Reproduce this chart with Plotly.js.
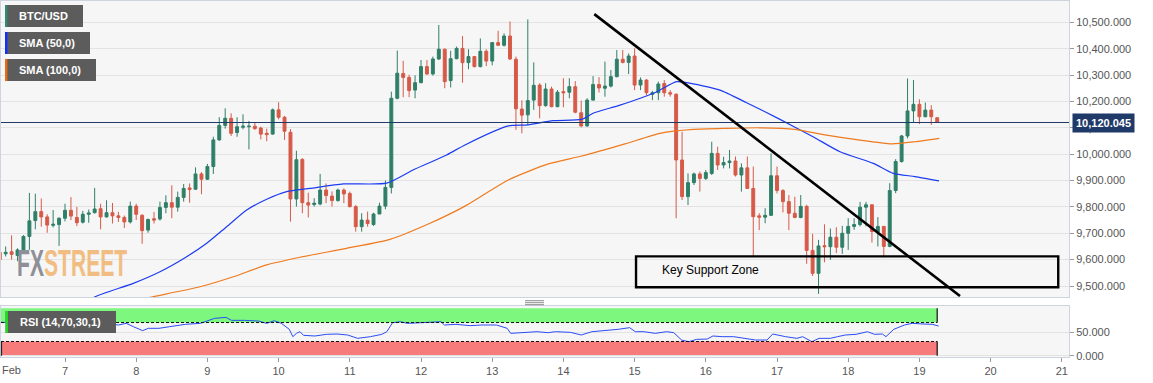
<!DOCTYPE html>
<html>
<head>
<meta charset="utf-8">
<script src="https://cdn.plot.ly/plotly-3.0.1.min.js"></script>
<style>
  html, body { margin: 0; padding: 0; background: #ffffff; }
  #chart { width: 1153px; height: 383px; }
</style>
</head>
<body>
<div id="chart"></div>
<script>
// ---------------- DATA ----------------
// BTC/USD 2-hour candles, first candle Feb 6 2020 02:00
const candleStartDay = 6 + 2 / 24;   // day-of-February (decimal)
const candleStepHours = 2;

const OPEN = [9628,9622,9630,9616,9637,9688,9748,9782,9762,9730,9733,9757,9787,9760,9742,9772,9778,9793,9762,9778,
  9766,9760,9743,9803,9768,9712,9755,9754,9798,9816,9799,9836,9872,9867,9925,9905,9953,10054,10109,10136,
  10082,10102,10104,10106,10099,10079,10076,10168,10140,10083,9830,9980,9816,9809,9811,9864,9841,9824,9864,9851,
  9801,9725,9750,9733,9773,9803,9874,10212,10306,10291,10243,10271,10332,10304,10361,10398,10279,10362,10401,10347,
  10370,10332,10390,10353,10423,10413,10448,10360,10171,10149,10205,10262,10184,10247,10180,10237,10235,10256,10157,10107,
  10205,10264,10250,10258,10294,10360,10348,10372,10262,10281,10227,10233,10268,10233,10227,9978,9839,9892,9925,9908,
  9927,10003,9959,9968,9974,9921,9948,9870,9766,9761,9768,9918,9862,9820,9776,9760,9802,9635,9548,9653,
  9649,9685,9647,9700,9726,9733,9799,9808,9705,9726,9650,9862,9972,10069,10164,10189,10142,10167,10138];
const HIGH = [9635,9650,9692,9643,9693,9853,9850,9832,9772,9788,9760,9812,9837,9800,9785,9790,9872,9812,9825,9815,
  9781,9767,9820,9812,9772,9756,9781,9820,9844,9882,9858,9887,9889,9950,9932,9963,10066,10140,10174,10155,
  10140,10151,10126,10121,10104,10097,10173,10197,10145,10095,10013,9985,9854,9833,9925,9889,9859,9869,9870,9858,
  9807,9776,9782,9778,9816,9900,10237,10393,10354,10301,10299,10357,10357,10370,10490,10400,10392,10408,10448,10398,
  10372,10439,10398,10425,10468,10458,10503,10370,10204,10511,10348,10269,10269,10256,10243,10288,10288,10277,10203,10212,
  10296,10292,10351,10319,10395,10395,10382,10401,10291,10284,10240,10275,10281,10243,10231,10085,9927,9930,9934,9940,
  10047,10028,9990,10016,9991,9965,9991,9953,9776,9795,10003,9953,9867,9845,9839,9845,9808,9698,9675,9734,
  9718,9723,9728,9757,9757,9819,9819,9808,9761,9728,9890,9981,10073,10287,10281,10208,10196,10186,10140];
const LOW = [9585,9612,9600,9594,9635,9637,9715,9725,9702,9722,9652,9745,9750,9727,9737,9740,9775,9715,9760,9737,
  9743,9720,9737,9750,9660,9702,9737,9748,9776,9757,9782,9820,9816,9864,9848,9902,9925,10051,10097,10069,
  10066,10094,10018,10092,10056,10049,10074,10132,10054,9744,9801,9776,9760,9801,9806,9814,9801,9820,9814,9798,
  9706,9706,9725,9728,9773,9791,9851,10208,10216,10216,10212,10269,10300,10298,10357,10250,10253,10360,10271,10322,
  10329,10329,10334,10337,10410,10408,10357,10092,10079,10110,10168,10136,10180,10178,10178,10178,10212,10155,10102,10104,
  10203,10234,10218,10253,10291,10344,10304,10243,10243,10224,10205,10205,10218,10218,9757,9826,9807,9883,9858,9902,
  9921,9940,9946,9946,9915,9858,9870,9611,9712,9738,9766,9851,9779,9712,9757,9757,9584,9538,9470,9590,
  9599,9625,9622,9637,9713,9726,9726,9665,9650,9609,9647,9852,9968,10060,10119,10114,10140,10111,10118];
const CLOSE = [9600,9628,9620,9637,9688,9747,9782,9762,9731,9734,9757,9787,9765,9740,9772,9777,9792,9762,9778,9766,
  9760,9743,9803,9772,9710,9752,9750,9798,9816,9799,9836,9870,9866,9925,9905,9953,10054,10109,10136,10079,
  10104,10106,10106,10097,10076,10074,10168,10140,10087,9830,9979,9816,9807,9814,9864,9843,9824,9864,9849,9801,
  9725,9750,9737,9773,9803,9874,10212,10307,10291,10241,10271,10332,10304,10361,10398,10275,10362,10401,10347,10370,
  10332,10390,10353,10423,10413,10448,10361,10172,10148,10203,10261,10184,10247,10180,10235,10233,10256,10159,10107,10205,
  10264,10251,10258,10294,10360,10348,10372,10262,10281,10233,10233,10266,10233,10228,9978,9839,9892,9925,9908,9930,
  10003,9959,9968,9974,9921,9948,9870,9763,9761,9768,9918,9862,9820,9776,9760,9802,9635,9548,9652,9649,
  9685,9647,9700,9726,9733,9799,9808,9707,9726,9650,9862,9972,10069,10164,10189,10142,10167,10142,10120.045];

// SMA(50) and SMA(100) (time = day of Feb 2020)
const sma50Time = [7.351,7.421,7.959,8.334,8.709,8.990,9.271,9.552,9.833,10.114,10.441,10.909,11.518,11.888,12.361,12.618,
  13.226,13.503,13.854,14.257,14.416,14.795,15.263,15.591,15.732,16.199,16.574,17.042,17.506,17.885,18.353,18.633,18.938,19.275];
const sma50Value = [9440,9459,9510,9554,9611,9662,9725,9788,9829,9858,9870,9887,9890,9940,9997,10035,
  10107,10111,10127,10132,10155,10186,10231,10275,10271,10243,10195,10132,10066,10009,9965,9927,9915,9899];
const sma100Time = [8.053,8.194,8.896,9.364,9.833,10.301,10.956,11.565,12.126,12.618,13.226,13.788,14.257,14.865,
  15.357,15.824,16.293,16.761,17.253,17.674,18.142,18.611,18.938,19.279];
const sma100Value = [9448,9457,9497,9535,9580,9609,9643,9677,9738,9803,9902,9963,9993,10039,
  10079,10094,10098,10100,10094,10073,10054,10039,10047,10060];

// RSI(14)
const rsiTime = [6.087,6.19,6.40,6.79,7.21,7.54,7.75,7.86,7.96,8.09,8.17,8.32,8.47,8.69,8.90,9.00,9.10,9.26,9.34,9.52,
  9.72,9.83,9.94,10.04,10.15,10.20,10.25,10.30,10.35,10.51,10.67,10.82,10.97,11.11,11.29,11.45,11.52,11.60,11.71,11.81,
  12.01,12.28,12.33,12.49,12.69,12.85,13.06,13.21,13.26,13.47,13.63,13.78,13.89,14.10,14.25,14.40,14.61,14.77,14.93,15.01,
  15.13,15.29,15.45,15.55,15.66,15.76,15.87,16.02,16.10,16.23,16.39,16.55,16.70,16.86,16.94,17.12,17.28,17.36,17.49,17.59,
  17.75,17.85,17.96,18.11,18.27,18.37,18.48,18.53,18.64,18.79,18.90,19.05,19.18,19.27];
const rsiValue = [70.4,70.4,71,70,69,68.3,64.8,68.3,61.3,52.9,57.8,57.8,61.3,66.2,68.3,73.9,78.8,80.9,74.6,74.6,
  73.2,68.3,73.9,68.3,55.7,40.2,47.2,50.7,43.0,41.6,45.1,45.8,43.7,36.7,40.2,45.1,50.7,69.6,71.8,68.3,
  70.4,71.8,64.8,66.2,63.4,64.8,64.8,57.8,47.2,48.6,50.7,48.6,50.7,49.3,43.7,50.7,52.9,55.7,59.2,50.7,
  50.7,47.2,50.7,48.6,33.1,29.6,34.5,35.2,41.6,40.2,40.2,36.7,33.1,33.1,45.8,40.2,36.7,40.2,29.6,36.7,
  36.7,40.2,43.7,45.1,50.7,45.1,45.8,40.2,55.7,64.8,68.3,66.9,66.2,62.7];
const rsiUpper = 70, rsiLower = 30;

const lastPrice = 10120.045;
const priceTicks = [9500,9600,9700,9800,9900,10000,10100,10200,10300,10400,10500];
const dayTicks = [7,8,9,10,11,12,13,14,15,16,17,18,19,20,21];
const dayTickLabels = ['7','8','9','10','11','12','13','14','15','16','17','18','19','20','21'];

// annotation drawing (trend line / support zone), in data units
const trendLine = {t0: 14.434, p0: 10531, t1: 19.57, p1: 9462};
const supportZone = {t0: 15.02, t1: 20.95, p0: 9495, p1: 9612.5};

// ---------------- HELPERS ----------------
const FEB1 = Date.UTC(2020, 1, 1);
const feb = d => FEB1 + (d - 1) * 864e5;
const W = 1153, H = 383, ML = 1, MR = 84, MT = 1, MB = 26;
const PW = W - ML - MR, PH = H - MT - MB;
const px = x => (x - ML) / PW;          // pixel -> paper
const py = y => (H - MB - y) / PH;

const times = OPEN.map((_, i) => feb(candleStartDay) + i * candleStepHours * 3600e3);
const lastTime = times[times.length - 1];
const xRange = [feb(6.1011), feb(21.1011)];

const FONT = 'Liberation Sans, Arial, sans-serif';
const GREEN = '#2f7f68', RED = '#d65a48';

// ---------------- TRACES ----------------
const data = [
  {
    type: 'candlestick', x: times, open: OPEN, high: HIGH, low: LOW, close: CLOSE,
    xaxis: 'x', yaxis: 'y',
    increasing: {line: {color: GREEN, width: 1}, fillcolor: GREEN},
    decreasing: {line: {color: RED, width: 1}, fillcolor: RED},
    whiskerwidth: 0, hoverinfo: 'skip'
  },
  {
    type: 'scatter', mode: 'lines', x: sma50Time.map(feb), y: sma50Value,
    xaxis: 'x', yaxis: 'y', line: {color: '#1d3cf2', width: 1.2, shape: 'spline', smoothing: 0.6}, hoverinfo: 'skip'
  },
  {
    type: 'scatter', mode: 'lines', x: sma100Time.map(feb), y: sma100Value,
    xaxis: 'x', yaxis: 'y', line: {color: '#ef7a1e', width: 1.2, shape: 'spline', smoothing: 0.6}, hoverinfo: 'skip'
  },
  {
    type: 'scatter', mode: 'lines', x: rsiTime.map(feb), y: rsiValue,
    xaxis: 'x2', yaxis: 'y2', line: {color: '#2b4cf5', width: 1}, hoverinfo: 'skip'
  }
];

// ---------------- SHAPES ----------------
const shapes = [];
// RSI zones
shapes.push({type: 'rect', xref: 'x2', yref: 'y2', x0: xRange[0], x1: lastTime, y0: rsiUpper, y1: 100,
  fillcolor: '#7ef77e', line: {width: 0}, layer: 'below'});
shapes.push({type: 'rect', xref: 'x2', yref: 'y2', x0: xRange[0], x1: lastTime, y0: 0, y1: rsiLower,
  fillcolor: '#f77b7b', line: {width: 0}, layer: 'below'});
[rsiUpper, rsiLower].forEach(v => shapes.push({type: 'line', xref: 'x2', yref: 'y2', x0: xRange[0], x1: lastTime,
  y0: v, y1: v, line: {color: '#111', width: 1, dash: '3px,2px'}}));
[[rsiUpper, 100], [0, rsiLower]].forEach(([a, b]) => {
  shapes.push({type: 'line', xref: 'x2', yref: 'y2', x0: lastTime, x1: lastTime, y0: a, y1: b, line: {color: '#111', width: 1.2}});
});
shapes.push({type: 'line', xref: 'paper', yref: 'y2', x0: px(1.5), x1: px(1.5), y0: 0, y1: rsiLower, line: {color: '#222', width: 1.2}});

// last price line
shapes.push({type: 'line', xref: 'paper', yref: 'y', x0: 0, x1: 1, y0: lastPrice, y1: lastPrice,
  line: {color: '#1f3a68', width: 1}});
// trend line
shapes.push({type: 'line', xref: 'x', yref: 'y', x0: feb(trendLine.t0), y0: trendLine.p0,
  x1: feb(trendLine.t1), y1: trendLine.p1, line: {color: '#000', width: 2.6}});
// support zone
shapes.push({type: 'rect', xref: 'x', yref: 'y', x0: feb(supportZone.t0), x1: feb(supportZone.t1),
  y0: supportZone.p0, y1: supportZone.p1, line: {color: '#000', width: 2.4}, fillcolor: 'rgba(0,0,0,0)'});

// legend boxes
const boxes = [
  {x0: 5, x1: 83, y0: 5, y1: 27, stripe: '#2e8b6e', text: 'BTC/USD'},
  {x0: 5, x1: 90, y0: 32, y1: 54, stripe: '#1030ff', text: 'SMA (50,0)'},
  {x0: 5, x1: 96, y0: 59, y1: 81, stripe: '#ee6a10', text: 'SMA (100,0)'},
  {x0: 5.5, x1: 116, y0: 311, y1: 333, stripe: '#1fe01f', text: 'RSI (14,70,30,1)'}
];
const annotations = [];
boxes.forEach(b => {
  shapes.push({type: 'rect', xref: 'paper', yref: 'paper', x0: px(b.x0), x1: px(b.x1), y0: py(b.y1), y1: py(b.y0),
    fillcolor: '#5c5c5c', line: {width: 0}});
  shapes.push({type: 'rect', xref: 'paper', yref: 'paper', x0: px(b.x0), x1: px(b.x0 + 2.4), y0: py(b.y1), y1: py(b.y0),
    fillcolor: b.stripe, line: {width: 0}});
  annotations.push({xref: 'paper', yref: 'paper', x: px(b.x0 + 12), y: py((b.y0 + b.y1) / 2), xanchor: 'left', yanchor: 'middle',
    text: b.text, showarrow: false, font: {family: FONT, size: 11, color: '#ffffff', weight: 'bold'}});
});
// separator handle
[300.7, 302.7, 304.7].forEach(y => shapes.push({type: 'line', xref: 'paper', yref: 'paper',
  x0: px(525), x1: px(544), y0: py(y), y1: py(y), line: {color: '#8a8a8a', width: 1}}));

// price label
annotations.push({xref: 'paper', yref: 'y', x: 1, y: lastPrice, xanchor: 'left', yanchor: 'middle', xshift: 3,
  text: '10,120.045', showarrow: false, bgcolor: '#1f3a68', borderpad: 3,
  font: {family: FONT, size: 11, color: '#ffffff', weight: 'bold'}});
// key support zone label
annotations.push({xref: 'x', yref: 'y', x: feb(15.357), y: 9561, xanchor: 'left', yanchor: 'middle',
  text: 'Key Support Zone', showarrow: false, font: {family: FONT, size: 12, color: '#000'}});
// month label
annotations.push({xref: 'paper', yref: 'paper', x: px(0), y: py(370), xanchor: 'left', yanchor: 'middle',
  text: 'Feb', showarrow: false, font: {family: FONT, size: 11, color: '#555'}});
// watermark
annotations.push({xref: 'paper', yref: 'paper', x: px(15), y: py(263.5), xanchor: 'left', yanchor: 'middle',
  text: '<span style="color:#8f8f97">FX</span><span style="color:#f1bd82">STREET</span>',
  showarrow: false, font: {family: FONT, size: 37, weight: 'bold'}});

// ---------------- LAYOUT ----------------
const axisLine = '#cdd3df';
const layout = {
  width: W, height: H,
  margin: {l: ML, r: MR, t: MT, b: MB, pad: 0},
  paper_bgcolor: '#ffffff', plot_bgcolor: '#f6f6f6',
  showlegend: false, hovermode: false, dragmode: false,
  font: {family: FONT, size: 11, color: '#555'},
  xaxis: {type: 'date', range: xRange, domain: [0, 1], anchor: 'y', rangeslider: {visible: false},
    showticklabels: false, showgrid: false, zeroline: false, ticks: '',
    showline: true, mirror: true, linecolor: axisLine, linewidth: 1},
  yaxis: {domain: [py(297), 1], range: [9458.3, 10580.8], side: 'right', anchor: 'x',
    tickvals: priceTicks, tickformat: ',.3f', gridcolor: '#e3e3e3', gridwidth: 1, zeroline: false,
    showline: true, mirror: true, linecolor: axisLine, ticks: 'outside', ticklen: 4, tickcolor: '#9a9a9a',
    tickfont: {family: FONT, size: 11, color: '#555'}},
  xaxis2: {type: 'date', range: xRange, domain: [0, 1], anchor: 'y2',
    tickvals: dayTicks.map(feb), ticktext: dayTickLabels, showgrid: false, zeroline: false,
    ticks: 'outside', ticklen: 4, tickcolor: '#9a9a9a',
    showline: true, mirror: true, linecolor: axisLine, tickfont: {family: FONT, size: 11, color: '#555'}},
  yaxis2: {domain: [0, py(306)], range: [-2.7, 104.9], side: 'right', anchor: 'x2',
    tickvals: [0, 50], tickformat: '.3f', gridcolor: '#e3e3e3', zeroline: false,
    showline: true, mirror: true, linecolor: axisLine, ticks: 'outside', ticklen: 4, tickcolor: '#9a9a9a',
    tickfont: {family: FONT, size: 11, color: '#555'}},
  shapes: shapes,
  annotations: annotations
};

Plotly.newPlot('chart', data, layout, {staticPlot: true, displayModeBar: false}).then(gd => {
  gd.querySelectorAll('.annotation-text').forEach(t => {
    if (t.textContent === 'FXSTREET') {
      t.style.transformBox = 'fill-box';
      t.style.transformOrigin = '0% 50%';
      t.style.transform = 'scaleX(0.57)';
    }
  });
});
</script>
</body>
</html>
